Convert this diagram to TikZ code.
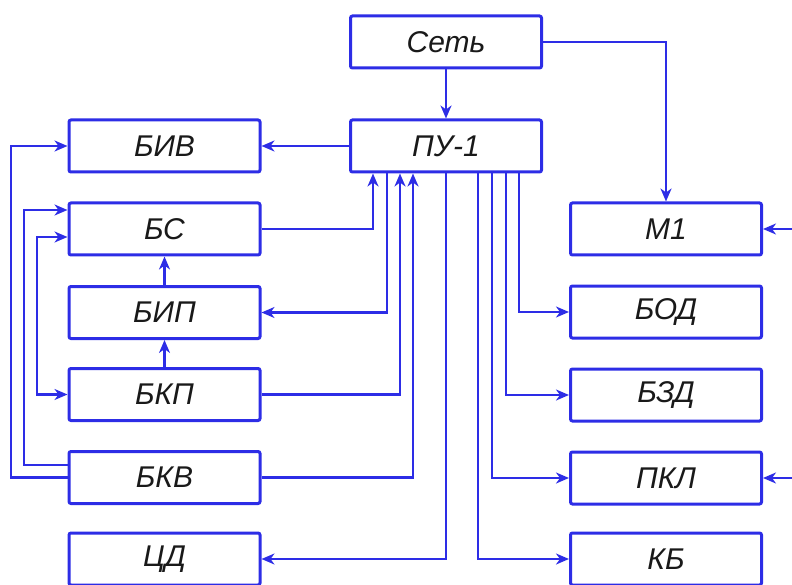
\documentclass[tikz,border=0pt]{standalone}
\usepackage{fontspec}
\setmainfont{Liberation Sans}
\usetikzlibrary{arrows.meta}
\definecolor{lineblue}{RGB}{45,45,230}
\definecolor{txt}{RGB}{25,25,25}
\begin{document}
\begin{tikzpicture}[x=1pt,y=-1pt,
  blk/.style={draw=lineblue, line width=3pt, rounded corners=2pt, fill=white,
    minimum width=191pt, minimum height=52pt, inner sep=0pt,
    font=\fontsize{30}{34}\selectfont\itshape, text=txt},
  tip/.style={},
  arr/.style={draw=lineblue, line width=2.8pt, -{Stealth[length=13pt,width=11pt,inset=4pt]}},
  arrboth/.style={draw=lineblue, line width=2.8pt, {Stealth[length=13pt,width=11pt,inset=4pt]}-{Stealth[length=13pt,width=11pt,inset=4pt]}}
]
\useasboundingbox (0,0) rectangle (792,585);
\node[blk] (set) at (446,42) {Сеть};
\node[blk] (pu) at (446,146) {ПУ-1};
\node[blk] (biv) at (164.5,146) {БИВ};
\node[blk] (bs) at (164.5,229) {БС};
\node[blk] (bip) at (164.5,312.5) {БИП};
\node[blk] (bkp) at (164.5,394.5) {БКП};
\node[blk] (bkv) at (164.5,477.5) {БКВ};
\node[blk] (cd) at (164.5,559) {ЦД};
\node[blk] (m1) at (666,229) {М1};
\node[blk] (bod) at (666,312) {БОД};
\node[blk] (bzd) at (666,395) {БЗД};
\node[blk] (pkl) at (666,478) {ПКЛ};
\node[blk] (kb) at (666,559) {КБ};
\coordinate (rm1) at (792,229);
\coordinate (rpkl) at (792,478);

\draw[arr] (set) -- (pu);
\draw[arr] (set.east) -| (m1.north);
\draw[arr] (pu.west) -- (biv.east);
\draw[arr] (bs.east) -| ([xshift=-73pt]pu.south);
\draw[arr] ([xshift=-59pt]pu.south) |- (bip.east);
\draw[arr] (bkp.east) -| ([xshift=-46pt]pu.south);
\draw[arr] (bkv.east) -| ([xshift=-33pt]pu.south);
\draw[arr] (pu.south) |- (cd.east);
\draw[arr] ([xshift=32pt]pu.south) |- (kb.west);
\draw[arr] ([xshift=46pt]pu.south) |- (pkl.west);
\draw[arr] ([xshift=60pt]pu.south) |- (bzd.west);
\draw[arr] ([xshift=73pt]pu.south) |- (bod.west);
\draw[arr] (bip) -- (bs);
\draw[arr] (bkp) -- (bip);
\draw[arr] (rm1) -- (m1.east);
\draw[arr] (rpkl) -- (pkl.east);
\draw[arr] ([yshift=12.5pt]bkv.west) -- ++(-43.5,0) |- ([yshift=19pt]bs.west);
\draw[arr] (bkv.west) -- ++(-56.5,0) |- (biv.west);
\draw[arrboth] ([yshift=-8pt]bs.west) -- ++(-30.5,0) |- (bkp.west);
\end{tikzpicture}
\end{document}
